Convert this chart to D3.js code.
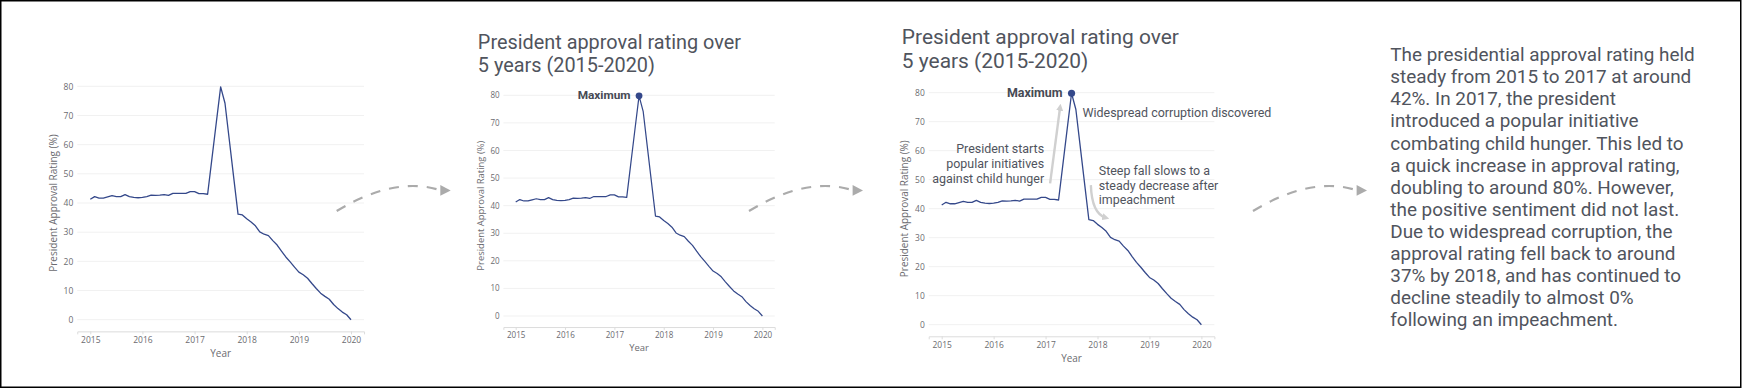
<!DOCTYPE html>
<html>
<head>
<meta charset="utf-8">
<script src="https://cdn.jsdelivr.net/npm/d3@7"></script>
<style>
  body { margin: 0; background: #fff; }
  svg { display: block; }
</style>
</head>
<body>
<svg id="chart" width="1745" height="388"></svg>
<script>
// monthly approval rating, Jan 2015 .. Jan 2020
const YEARS       = [2015, 2016, 2017, 2018, 2019, 2020];
const Y_TICKS     = [0, 10, 20, 30, 40, 50, 60, 70, 80];
const RATING_2015 = [41.3, 42.2, 41.7, 41.7, 42.1, 42.5, 42.2, 42.2, 42.9, 42.2, 41.9, 41.8];
const RATING_2016 = [41.9, 42.2, 42.7, 42.6, 42.7, 42.9, 42.6, 43.3, 43.3, 43.3, 43.3, 43.9];
const RATING_2017 = [43.9, 43.2, 43.2, 43.0, 55.3, 67.6, 79.8, 74.2, 61.5, 48.8, 36.2, 35.9];
const RATING_2018 = [34.6, 33.5, 32.2, 30.1, 29.3, 28.8, 27.1, 25.6, 23.5, 21.5, 19.8, 18.0];
const RATING_2019 = [16.3, 15.4, 14.2, 12.4, 10.7, 9.1, 8.0, 7.0, 5.2, 3.8, 2.6, 1.7];
const RATING_2020 = [0.0];

const TITLE_LINES = ['President approval rating over', '5 years (2015-2020)'];
const X_TITLE     = 'Year';
const Y_TITLE     = 'President Approval Rating (%)';
const MAX_LABEL   = 'Maximum';
const NOTE_RISE   = ['President starts', 'popular initiatives', 'against child hunger'];
const NOTE_PEAK   = ['Widespread corruption discovered'];
const NOTE_FALL   = ['Steep fall slows to a', 'steady decrease after', 'impeachment'];
const STORY_LINES = [
    'The presidential approval rating held',
    'steady from 2015 to 2017 at around',
    '42%. In 2017, the president',
    'introduced a popular initiative',
    'combating child hunger. This led to',
    'a quick increase in approval rating,',
    'doubling to around 80%. However,',
    'the positive sentiment did not last.',
    'Due to widespread corruption, the',
    'approval rating fell back to around',
    '37% by 2018, and has continued to',
    'decline steadily to almost 0%',
    'following an impeachment.'
];

const LINE_COLOR  = '#34488a';
const TEXT_COLOR  = '#50545d';
const AXIS_COLOR  = '#6b6b70';
const NOTE_ARROW  = '#d0d0d0';
const LINK_COLOR  = '#ababab';

const data = [
    [2015, RATING_2015], [2016, RATING_2016], [2017, RATING_2017],
    [2018, RATING_2018], [2019, RATING_2019], [2020, RATING_2020]
].flatMap(([year, values]) => values.map((v, m) => ({ t: year + m / 12, v })));

const peak = data[d3.maxIndex(data, d => d.v)];
const findPoint = (t) => data.find(d => Math.abs(d.t - t) < 1e-6);

// the three copies of the chart, each a little different in size
const PANELS = [
    { left: 90.3,  width: 260.7, bottom: 319.7, height: 233.4, s: 1.0 },
    { left: 515.7, width: 246.7, bottom: 316.0, height: 220.7, s: 0.946, title: true, maximum: true },
    { left: 941.7, width: 259.7, bottom: 324.7, height: 232.0, s: 0.996, title: true, maximum: true, notes: true }
];

const svg = d3.select('#chart');

// page frame
svg.append('rect')
    .attr('x', 0.75).attr('y', 0.75)
    .attr('width', 1740).attr('height', 386.5)
    .attr('fill', 'none').attr('stroke', '#000').attr('stroke-width', 1.5);

const defs = svg.append('defs');
defs.append('marker')
    .attr('id', 'note-head')
    .attr('viewBox', '0 0 10 10')
    .attr('refX', 5).attr('refY', 5)
    .attr('markerWidth', 3).attr('markerHeight', 3)
    .attr('orient', 'auto')
    .append('path')
    .attr('d', 'M0,0 L10,5 L0,10 z')
    .attr('fill', NOTE_ARROW);

function multiline (g, lines, x, y, step, anchor, size, weight) {
    const t = g.append('text')
        .attr('x', x).attr('y', y)
        .attr('text-anchor', anchor)
        .attr('font-family', 'Roboto, sans-serif')
        .attr('font-size', size)
        .attr('font-weight', weight || 400)
        .attr('fill', TEXT_COLOR);
    lines.forEach((line, i) => {
        t.append('tspan').attr('x', x).attr('y', y + i * step).attr('dy', '0.35em').text(line);
    });
    return t;
}

function drawPanel (p) {
    const s = p.s;
    const g = svg.append('g');

    const x = d3.scaleLinear()
        .domain([2014.75, 2020.25])
        .range([p.left - p.width * 0.05, p.left + p.width * 1.05]);
    const y = d3.scaleLinear()
        .domain([0, 80])
        .range([p.bottom, p.bottom - p.height]);

    const axisY = y(-4);

    // horizontal grid
    g.append('g')
        .selectAll('line')
        .data(Y_TICKS)
        .join('line')
        .attr('x1', x.range()[0]).attr('x2', x.range()[1])
        .attr('y1', d => y(d)).attr('y2', d => y(d))
        .attr('stroke', '#f1f1f1').attr('stroke-width', 1);

    // x axis
    const xAxis = g.append('g')
        .attr('transform', `translate(0,${axisY})`)
        .call(d3.axisBottom(x).tickValues(YEARS).tickFormat(d3.format('d')).tickSizeOuter(0).tickSize(3 * s));
    xAxis.select('.domain').attr('stroke', '#dcdcdc');
    xAxis.selectAll('.tick line').attr('stroke', '#dcdcdc');
    xAxis.selectAll('.tick text')
        .attr('y', 9 * s).attr('dy', '0.35em')
        .attr('fill', AXIS_COLOR)
        .attr('font-family', '"Open Sans", sans-serif')
        .attr('font-size', 8.5 * s);

    // y axis
    const yAxis = g.append('g')
        .attr('transform', `translate(${x.range()[0]},0)`)
        .call(d3.axisLeft(y).tickValues(Y_TICKS).tickSize(0).tickPadding(4 * s));
    yAxis.select('.domain').remove();
    yAxis.selectAll('.tick text')
        .attr('fill', AXIS_COLOR)
        .attr('font-family', '"Open Sans", sans-serif')
        .attr('font-size', 8.5 * s);

    g.append('text')
        .attr('x', x(2017.5)).attr('y', axisY + 22 * s).attr('dy', '0.35em')
        .attr('text-anchor', 'middle')
        .attr('font-family', '"Open Sans", sans-serif')
        .attr('font-size', 10 * s)
        .attr('fill', AXIS_COLOR)
        .text(X_TITLE);

    g.append('text')
        .attr('transform', `translate(${p.left - 37 * s},${y(40)}) rotate(-90)`)
        .attr('dy', '0.35em')
        .attr('text-anchor', 'middle')
        .attr('font-family', '"Open Sans", sans-serif')
        .attr('font-size', 10 * s)
        .attr('fill', AXIS_COLOR)
        .text(Y_TITLE);

    // rating line
    const line = d3.line().x(d => x(d.t)).y(d => y(d.v));
    g.append('path')
        .datum(data)
        .attr('d', line)
        .attr('fill', 'none')
        .attr('stroke', LINE_COLOR)
        .attr('stroke-width', 1.3 * s)
        .attr('stroke-linejoin', 'round');

    if (p.title) {
        const t = g.append('text')
            .attr('font-family', 'Roboto, sans-serif')
            .attr('font-size', 21 * s)
            .attr('fill', TEXT_COLOR);
        TITLE_LINES.forEach((line, i) => {
            t.append('tspan')
                .attr('x', p.left - 40 * s)
                .attr('y', y(80) - 49 * s + i * 24 * s)
                .text(line);
        });
    }

    const px = x(peak.t), py = y(peak.v);

    if (p.maximum) {
        g.append('circle')
            .attr('cx', px).attr('cy', py).attr('r', 3.6 * s)
            .attr('fill', LINE_COLOR);
        g.append('text')
            .attr('x', px - 9 * s).attr('y', py - 1 * s).attr('dy', '0.35em')
            .attr('text-anchor', 'end')
            .attr('font-family', 'Roboto, sans-serif')
            .attr('font-weight', 700)
            .attr('font-size', 12.5 * s)
            .attr('fill', '#464a54')
            .text(MAX_LABEL);
    }

    if (p.notes) {
        const rise = findPoint(2017.25);
        const fall = findPoint(2017 + 10 / 12);
        const rx = x(rise.t), ry = y(rise.v);
        const fx = x(fall.t), fy = y(fall.v);
        const step = 15 * s;

        multiline(g, NOTE_RISE, rx - 14.5 * s, ry - 51.3 * s, step, 'end', 12.5 * s);
        g.append('path')
            .attr('d', `M${rx - 8.5 * s},${ry - 16.7 * s} L${px - 11.5 * s},${py + 14 * s}`)
            .attr('fill', 'none')
            .attr('stroke', NOTE_ARROW).attr('stroke-width', 2.4 * s)
            .attr('marker-end', 'url(#note-head)');

        multiline(g, NOTE_PEAK, px + 11 * s, py + 19.7 * s, step, 'start', 12.5 * s);

        multiline(g, NOTE_FALL, fx + 10 * s, fy - 49.7 * s, step, 'start', 12.5 * s);
        g.append('path')
            .attr('d', `M${fx + 2 * s},${fy - 34.7 * s} Q${fx + 3 * s},${fy - 6 * s} ${fx + 17 * s},${fy - 2 * s}`)
            .attr('fill', 'none')
            .attr('stroke', NOTE_ARROW).attr('stroke-width', 2.4 * s)
            .attr('marker-end', 'url(#note-head)');
    }
}

PANELS.forEach(drawPanel);

// dashed connectors between the steps
const LINKS = [336.7, 749, 1253];
LINKS.forEach(x0 => {
    svg.append('path')
        .attr('d', `M${x0},211 Q${x0 + 58},176 ${x0 + 103},190`)
        .attr('fill', 'none')
        .attr('stroke', LINK_COLOR)
        .attr('stroke-width', 2.2)
        .attr('stroke-dasharray', '10,9');
    svg.append('path')
        .attr('d', `M${x0 + 103.6},185 L${x0 + 114},190.5 L${x0 + 103.6},195.8 z`)
        .attr('fill', LINK_COLOR);
});

// written summary
multiline(svg, STORY_LINES, 1390.3, 54.5, 22.1, 'start', 18.9);
</script>
</body>
</html>
